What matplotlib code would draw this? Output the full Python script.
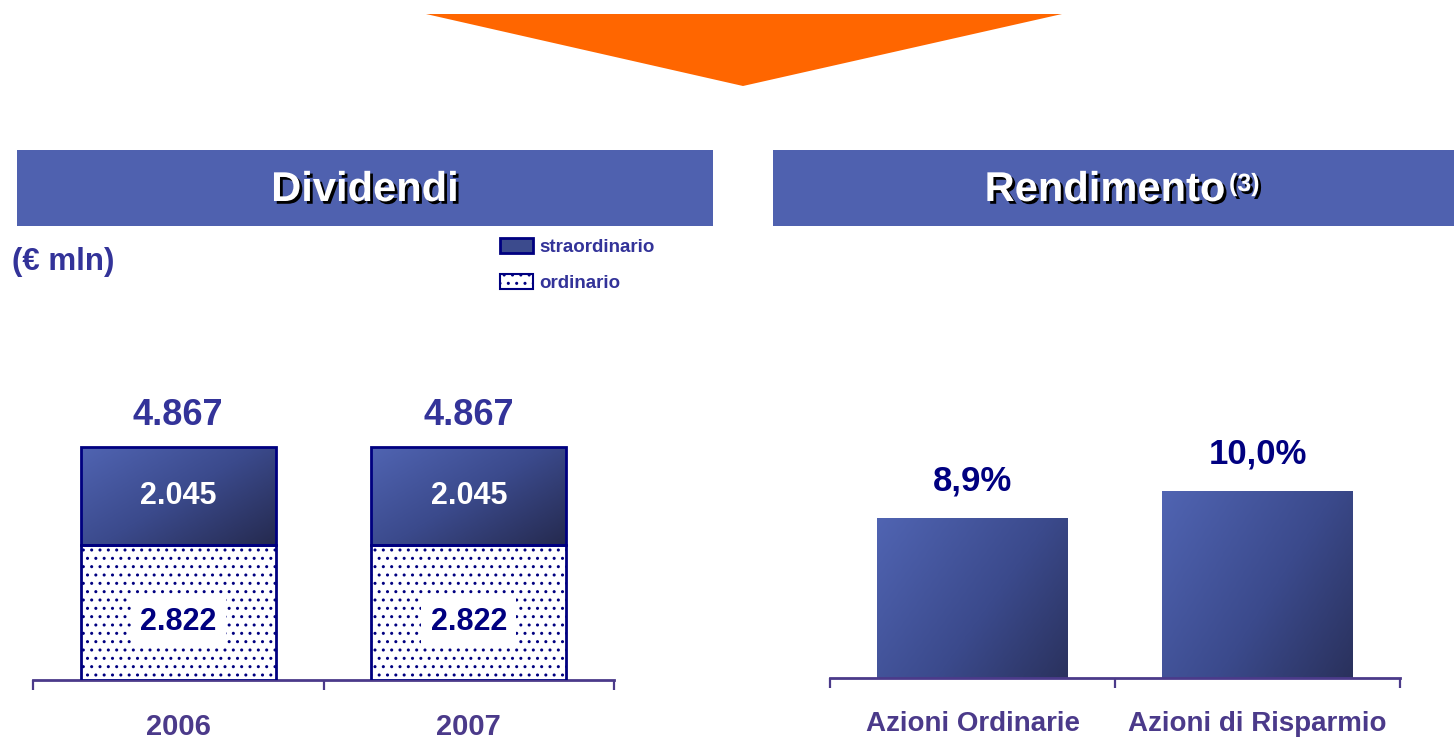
import numpy as np
import matplotlib.pyplot as plt
import matplotlib.patheffects as pe
from matplotlib.patches import Polygon, Rectangle, Patch
from matplotlib.colors import LinearSegmentedColormap

plt.rcParams['font.family'] = ['Liberation Sans', 'DejaVu Sans']
plt.rcParams['hatch.linewidth'] = 1.0

# data
years = ['2006', '2007']
ordinario = [2822, 2822]
straordinario = [2045, 2045]
azioni = ['Azioni Ordinarie', 'Azioni di Risparmio']
rendimento = [8.9, 10.0]

# colours
HEADER = '#4F61AF'
NAVY = '#000080'
SLATE = '#333399'
PURPLE = '#4B3A8A'
grad_cmap = LinearSegmentedColormap.from_list('bar', ['#5064B2', '#3B4A8C', '#252A4F'])

W, H = 1454, 739
fig = plt.figure(figsize=(W / 100, H / 100), dpi=100)


def fx(px):
    return px / W


def fy(py):
    return 1 - py / H


def it_num(v):
    return f'{v:,}'.replace(',', '.')


def gradient_fill(ax, bars):
    # diagonal shading, light top-left -> dark bottom-right
    X, Y = np.meshgrid(np.linspace(0, 1, 120), np.linspace(0, 1, 120))
    t = 0.55 * X + 0.45 * Y
    for b in bars:
        x0, y0, w, h = b.get_x(), b.get_y(), b.get_width(), b.get_height()
        ax.imshow(t, extent=[x0, x0 + w, y0, y0 + h], cmap=grad_cmap, vmin=0, vmax=1,
                  aspect='auto', origin='upper', zorder=2, interpolation='bilinear')


def style_axis(ax, labels, label_size):
    ax.set_xlim(-0.5, len(labels) - 0.5)
    for s in ['left', 'top', 'right']:
        ax.spines[s].set_visible(False)
    ax.spines['bottom'].set_color(PURPLE)
    ax.spines['bottom'].set_linewidth(2)
    ax.set_yticks([])
    ax.set_xticks(range(len(labels)))
    ax.set_xticklabels(labels, fontsize=label_size, fontweight='bold', color=PURPLE)
    ax.set_xticks(np.arange(-0.5, len(labels), 1.0), minor=True)
    ax.tick_params(axis='x', which='major', length=0, pad=24)
    ax.tick_params(axis='x', which='minor', length=7, width=1.6, color=PURPLE, direction='out')
    ax.patch.set_visible(False)


# orange arrow at the top
fig.add_artist(Polygon([(fx(426), fy(14)), (fx(1062), fy(14)), (fx(743), fy(86))],
                       closed=True, transform=fig.transFigure, color='#FF6600', lw=0))

# header bands
for x0, x1 in [(17, 713), (773, 1454)]:
    fig.add_artist(Rectangle((fx(x0), fy(226)), (x1 - x0) / W, 76 / H,
                             transform=fig.transFigure, color=HEADER, lw=0))
shadow = [pe.withSimplePatchShadow(offset=(2, -2), shadow_rgbFace='black', alpha=1)]
fig.text(fx(365), fy(190), 'Dividendi', ha='center', va='center', fontsize=30,
         fontweight='bold', color='white', path_effects=shadow)
fig.text(fx(1105), fy(190), 'Rendimento', ha='center', va='center', fontsize=30,
         fontweight='bold', color='white', path_effects=shadow)
fig.text(fx(1229), fy(184), '(3)', ha='left', va='center', fontsize=18,
         fontweight='bold', color='white', path_effects=shadow)

fig.text(fx(12), fy(262), '(€ mln)', ha='left', va='center', fontsize=22.5,
         fontweight='bold', color=SLATE)

# ---- Dividendi: stacked bars ----
ax1 = fig.add_axes([fx(33), fy(680), (614 - 33) / W, (680 - 380) / H])
x = np.arange(len(years))
bw = 0.67
b_ord = ax1.bar(x, ordinario, width=bw, color='white', edgecolor=NAVY, hatch='..',
                linewidth=2, zorder=3)
b_str = ax1.bar(x, straordinario, bottom=ordinario, width=bw, color='none',
                edgecolor=NAVY, linewidth=2, zorder=3)
gradient_fill(ax1, b_str)
style_axis(ax1, years, 21)
ax1.set_ylim(0, 4867 * 300 / 233)

for i in range(len(years)):
    tot = ordinario[i] + straordinario[i]
    ax1.annotate(it_num(tot), (x[i], tot), xytext=(0, 23), textcoords='offset points',
                 ha='center', va='center', fontsize=26, fontweight='bold', color=SLATE)
    ax1.text(x[i], ordinario[i] + straordinario[i] / 2, it_num(straordinario[i]),
             ha='center', va='center', fontsize=22, fontweight='bold', color='white', zorder=5)
    ax1.annotate(it_num(ordinario[i]), (x[i], ordinario[i] / 2), xytext=(0, -7),
                 textcoords='offset points', ha='center', va='center', fontsize=22,
                 fontweight='bold', color=NAVY, zorder=5,
                 bbox=dict(boxstyle='square,pad=0.3', fc='white', ec='none'))

leg_handles = [Patch(facecolor='#3C4B8D', edgecolor=NAVY, linewidth=2, label='straordinario'),
               Patch(facecolor='white', edgecolor=NAVY, hatch='..', linewidth=1.5, label='ordinario')]
fig.legend(handles=leg_handles, loc='upper left', bbox_to_anchor=(fx(500), fy(238)),
           frameon=False, borderaxespad=0, borderpad=0, handlelength=1.75, handleheight=0.85,
           handletextpad=0.35, labelspacing=0.95, labelcolor=SLATE,
           prop={'weight': 'bold', 'size': 13.5})

# ---- Rendimento ----
ax2 = fig.add_axes([fx(830), fy(678), (1400 - 830) / W, (678 - 380) / H])
x2 = np.arange(len(azioni))
b_ren = ax2.bar(x2, rendimento, width=0.67, color='none', linewidth=0, zorder=3)
gradient_fill(ax2, b_ren)
style_axis(ax2, azioni, 20)
ax2.set_ylim(2.4, 14.55)
for i, v in enumerate(rendimento):
    ax2.annotate(f'{v:.1f}%'.replace('.', ','), (x2[i], v), xytext=(0, 27),
                 textcoords='offset points', ha='center', va='center', fontsize=25,
                 fontweight='bold', color=NAVY)

fig.savefig('out.png', dpi=100)
